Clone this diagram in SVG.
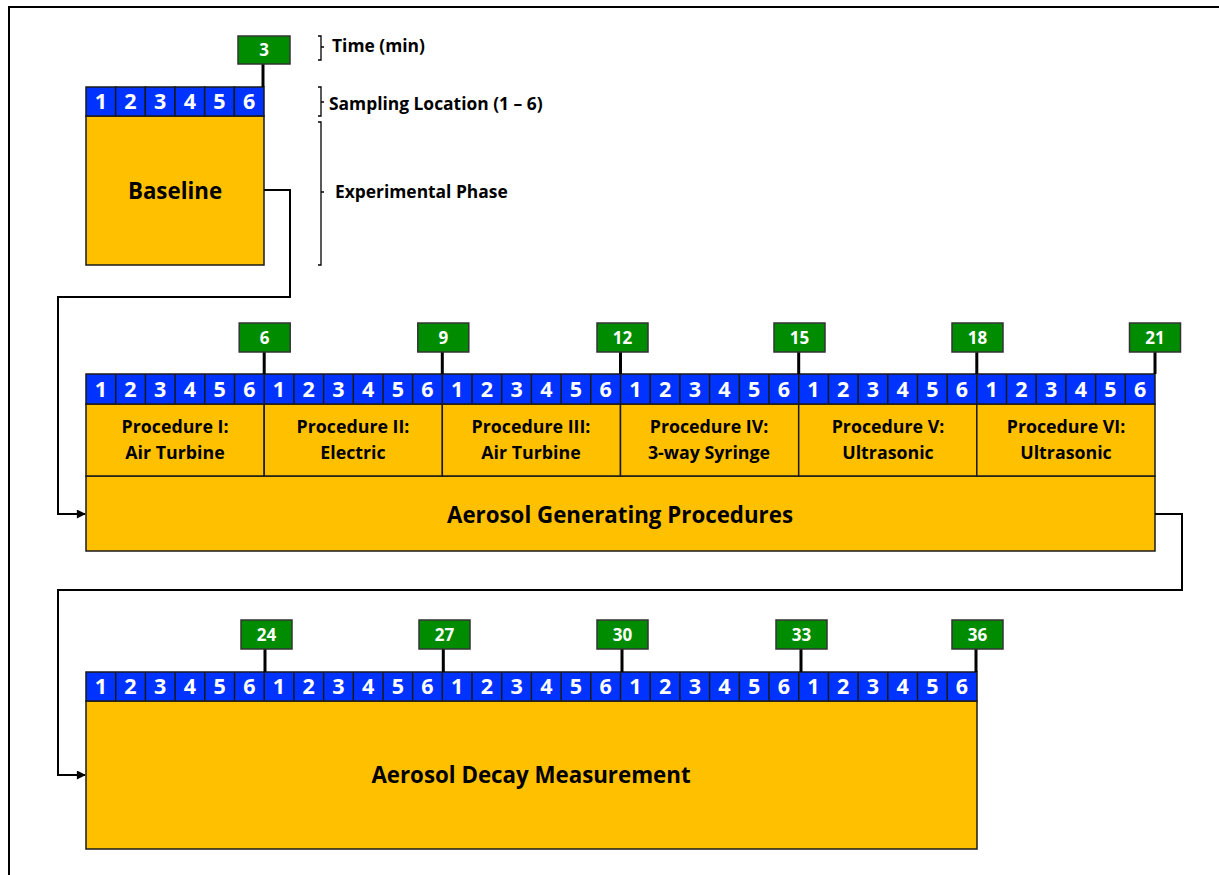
<svg xmlns="http://www.w3.org/2000/svg" width="1219" height="875" viewBox="0 0 1219 875">
<defs>
<marker id="arr" viewBox="0 0 10 10" refX="9" refY="5" markerWidth="5" markerHeight="4.5" orient="auto" markerUnits="strokeWidth"><path d="M0,0 L10,5 L0,10 z" fill="#000"/></marker>
<style>
text{font-family:"Open Sans","Noto Sans",sans-serif;font-weight:bold}
.cell{fill:#0033FF;stroke:#1a1a1a;stroke-width:1.5}
.num{fill:#fff;font-size:21.5px;text-anchor:middle}
.box{fill:#FFC000;stroke:#1a1a1a;stroke-width:1.5}
.tbox{fill:#008C00;stroke:#333;stroke-width:1.5}
.tnum{fill:#fff;font-size:17px;text-anchor:middle}
.stem{stroke:#000;stroke-width:3}
.big{font-size:22.3px;text-anchor:middle;fill:#000}
.proc{font-size:17.8px;text-anchor:middle;fill:#000}
.side{font-size:17.4px;fill:#000}
.br{fill:none;stroke:#000;stroke-width:1.3}
.conn{fill:none;stroke:#000;stroke-width:2}
</style>
</defs>
<rect x="9" y="7" width="1300" height="900" fill="none" stroke="#000" stroke-width="2"/>

<g id="legend">
<path class="br" d="M318,36 H321 V60 H318 M321,47 H324"/>
<path class="br" d="M318,87 H321 V116 H318 M321,102 H324"/>
<path class="br" d="M318,122 H321 V265 H318 M321,192 H324"/>
<text class="side" x="332" y="52">Time (min)</text>
<text class="side" x="329" y="110">Sampling Location (1 – 6)</text>
<text class="side" x="335" y="198">Experimental Phase</text>
</g>

<g id="baseline">
<rect class="box" x="86" y="116" width="178" height="149"/>
<text class="big" x="175" y="198.5">Baseline</text>
<g id="baseline-cells">
<rect class="cell" x="86" y="87" width="29.67" height="29"/><rect class="cell" x="115.67" y="87" width="29.67" height="29"/><rect class="cell" x="145.33" y="87" width="29.67" height="29"/><rect class="cell" x="175" y="87" width="29.67" height="29"/><rect class="cell" x="204.67" y="87" width="29.67" height="29"/><rect class="cell" x="234.33" y="87" width="29.67" height="29"/>
<text class="num" x="100.8" y="109.2">1</text><text class="num" x="130.5" y="109.2">2</text><text class="num" x="160.2" y="109.2">3</text><text class="num" x="189.8" y="109.2">4</text><text class="num" x="219.5" y="109.2">5</text><text class="num" x="249.2" y="109.2">6</text>
</g>
<line class="stem" x1="263" y1="64" x2="263" y2="87"/>
<rect class="tbox" x="238" y="36" width="52" height="28"/>
<text class="tnum" x="264" y="56">3</text>
</g>

<g id="agp">
<rect class="box" x="86" y="476" width="1069" height="75"/>
<text class="big" x="620" y="522.5">Aerosol Generating Procedures</text>
<g id="agp-procs">
<rect class="box" x="86" y="404" width="178.2" height="72"/>
<rect class="box" x="264.2" y="404" width="178.2" height="72"/>
<rect class="box" x="442.3" y="404" width="178.2" height="72"/>
<rect class="box" x="620.5" y="404" width="178.2" height="72"/>
<rect class="box" x="798.7" y="404" width="178.2" height="72"/>
<rect class="box" x="976.8" y="404" width="178.2" height="72"/>
<text class="proc" x="175" y="433">Procedure I:</text><text class="proc" x="175" y="459">Air Turbine</text>
<text class="proc" x="353" y="433">Procedure II:</text><text class="proc" x="353" y="459">Electric</text>
<text class="proc" x="531" y="433">Procedure III:</text><text class="proc" x="531" y="459">Air Turbine</text>
<text class="proc" x="709" y="433">Procedure IV:</text><text class="proc" x="709" y="459">3-way Syringe</text>
<text class="proc" x="888" y="433">Procedure V:</text><text class="proc" x="888" y="459">Ultrasonic</text>
<text class="proc" x="1066" y="433">Procedure VI:</text><text class="proc" x="1066" y="459">Ultrasonic</text>
</g>
<g id="agp-cells">
<rect class="cell" x="86" y="374" width="1069" height="30"/>
<path d="M115.7,374V404M145.4,374V404M175.1,374V404M204.8,374V404M234.5,374V404M264.2,374V404M293.9,374V404M323.6,374V404M353.3,374V404M383,374V404M412.6,374V404M442.3,374V404M472,374V404M501.7,374V404M531.4,374V404M561.1,374V404M590.8,374V404M620.5,374V404M650.2,374V404M679.9,374V404M709.6,374V404M739.3,374V404M769,374V404M798.7,374V404M828.4,374V404M858.1,374V404M887.8,374V404M917.5,374V404M947.2,374V404M976.8,374V404M1006.5,374V404M1036.2,374V404M1065.9,374V404M1095.6,374V404M1125.3,374V404" stroke="#1a1a1a" stroke-width="1.5"/>
<text class="num" y="396.7"><tspan x="100.8">1</tspan><tspan x="130.5">2</tspan><tspan x="160.2">3</tspan><tspan x="189.9">4</tspan><tspan x="219.6">5</tspan><tspan x="249.3">6</tspan><tspan x="279">1</tspan><tspan x="308.7">2</tspan><tspan x="338.4">3</tspan><tspan x="368.1">4</tspan><tspan x="397.8">5</tspan><tspan x="427.5">6</tspan><tspan x="457.2">1</tspan><tspan x="486.9">2</tspan><tspan x="516.6">3</tspan><tspan x="546.3">4</tspan><tspan x="576">5</tspan><tspan x="605.7">6</tspan><tspan x="635.4">1</tspan><tspan x="665.1">2</tspan><tspan x="694.8">3</tspan><tspan x="724.4">4</tspan><tspan x="754.1">5</tspan><tspan x="783.8">6</tspan><tspan x="813.5">1</tspan><tspan x="843.2">2</tspan><tspan x="872.9">3</tspan><tspan x="902.6">4</tspan><tspan x="932.3">5</tspan><tspan x="962">6</tspan><tspan x="991.7">1</tspan><tspan x="1021.4">2</tspan><tspan x="1051.1">3</tspan><tspan x="1080.8">4</tspan><tspan x="1110.5">5</tspan><tspan x="1140.2">6</tspan></text>
</g>
<g id="agp-times">
<path class="stem" d="M264.2,352V374M442.3,352V374M620.5,352V374M798.7,352V374M976.8,352V374M1155,352V374"/>
<rect class="tbox" x="239.2" y="323" width="51" height="29"/><text class="tnum" x="264.7" y="343.5">6</text>
<rect class="tbox" x="417.8" y="323" width="51" height="29"/><text class="tnum" x="443.3" y="343.5">9</text>
<rect class="tbox" x="597" y="323" width="51" height="29"/><text class="tnum" x="622.5" y="343.5">12</text>
<rect class="tbox" x="774" y="323" width="51" height="29"/><text class="tnum" x="799.5" y="343.5">15</text>
<rect class="tbox" x="952" y="323" width="51" height="29"/><text class="tnum" x="977.5" y="343.5">18</text>
<rect class="tbox" x="1129.5" y="323" width="51" height="29"/><text class="tnum" x="1155" y="343.5">21</text>
</g>
</g>

<g id="decay">
<rect class="box" x="86" y="701" width="891" height="148"/>
<text class="big" x="531" y="783">Aerosol Decay Measurement</text>
<g id="decay-cells">
<rect class="cell" x="86" y="672" width="891" height="29"/>
<path d="M115.7,672V701M145.4,672V701M175.1,672V701M204.8,672V701M234.5,672V701M264.2,672V701M293.9,672V701M323.6,672V701M353.3,672V701M383,672V701M412.6,672V701M442.3,672V701M472,672V701M501.7,672V701M531.4,672V701M561.1,672V701M590.8,672V701M620.5,672V701M650.2,672V701M679.9,672V701M709.6,672V701M739.3,672V701M769,672V701M798.7,672V701M828.4,672V701M858.1,672V701M887.8,672V701M917.5,672V701M947.2,672V701" stroke="#1a1a1a" stroke-width="1.5"/>
<text class="num" y="694.2"><tspan x="100.8">1</tspan><tspan x="130.5">2</tspan><tspan x="160.2">3</tspan><tspan x="189.9">4</tspan><tspan x="219.6">5</tspan><tspan x="249.3">6</tspan><tspan x="279">1</tspan><tspan x="308.7">2</tspan><tspan x="338.4">3</tspan><tspan x="368.1">4</tspan><tspan x="397.8">5</tspan><tspan x="427.5">6</tspan><tspan x="457.2">1</tspan><tspan x="486.9">2</tspan><tspan x="516.6">3</tspan><tspan x="546.3">4</tspan><tspan x="576">5</tspan><tspan x="605.7">6</tspan><tspan x="635.4">1</tspan><tspan x="665.1">2</tspan><tspan x="694.8">3</tspan><tspan x="724.4">4</tspan><tspan x="754.1">5</tspan><tspan x="783.8">6</tspan><tspan x="813.5">1</tspan><tspan x="843.2">2</tspan><tspan x="872.9">3</tspan><tspan x="902.6">4</tspan><tspan x="932.3">5</tspan><tspan x="962">6</tspan></text>
</g>
<g id="decay-times">
<path class="stem" d="M265,649V672M443.3,649V672M622,649V672M801,649V672M976,649V672"/>
<rect class="tbox" x="241" y="620" width="51" height="29"/><text class="tnum" x="266.5" y="640.5">24</text>
<rect class="tbox" x="419" y="620" width="51" height="29"/><text class="tnum" x="444.5" y="640.5">27</text>
<rect class="tbox" x="597" y="620" width="51" height="29"/><text class="tnum" x="622.5" y="640.5">30</text>
<rect class="tbox" x="776" y="620" width="51" height="29"/><text class="tnum" x="801.5" y="640.5">33</text>
<rect class="tbox" x="952" y="620" width="51" height="29"/><text class="tnum" x="977.5" y="640.5">36</text>
</g>
</g>

<g id="connectors">
<path class="conn" d="M264,190 H290 V297 H58 V514 H85" marker-end="url(#arr)"/>
<path class="conn" d="M1155,514 H1182 V590 H58 V775 H85" marker-end="url(#arr)"/>
</g>
</svg>
